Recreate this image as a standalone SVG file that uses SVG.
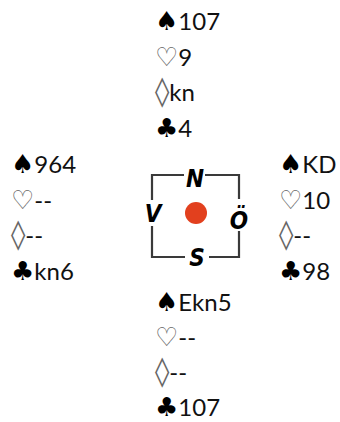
<svg xmlns="http://www.w3.org/2000/svg" width="340" height="422" viewBox="0 0 340 422">
<style>
.h{font-family:"Lato","Open Sans","Liberation Sans",sans-serif;font-size:24px;fill:#111}
.s{font-family:"DejaVu Sans",sans-serif;font-size:26px;fill:#000}
.w{font-family:"DejaVu Sans",sans-serif;font-size:26px;fill:#666}
.d{font-family:"DejaVu Sans",sans-serif;font-size:29px;fill:#666}
.c{font-family:"DejaVu Sans Condensed","DejaVu Sans",sans-serif;font-size:24px;font-weight:bold;font-style:italic;fill:#000;text-anchor:middle}
.box{fill:none;stroke:#3a3a3a;stroke-width:2.2}
</style>
<rect width="340" height="422" fill="#fff"/>
<g id="north">
<text class="h" x="155" y="30"><tspan class="s">♠</tspan>107</text>
<text class="h" x="155" y="65.5"><tspan class="w">♡</tspan>9</text>
<text class="h" x="155" y="101"><tspan class="d">◊</tspan>kn</text>
<text class="h" x="155" y="136.5"><tspan class="s">♣</tspan>4</text>
</g>
<g id="west">
<text class="h" x="11" y="173"><tspan class="s">♠</tspan>964</text>
<text class="h" x="11" y="208.5"><tspan class="w">♡</tspan>--</text>
<text class="h" x="11" y="244"><tspan class="d">◊</tspan>--</text>
<text class="h" x="11" y="279.5"><tspan class="s">♣</tspan>kn6</text>
</g>
<g id="east">
<text class="h" x="279" y="173"><tspan class="s">♠</tspan>KD</text>
<text class="h" x="279" y="208.5"><tspan class="w">♡</tspan>10</text>
<text class="h" x="279" y="244"><tspan class="d">◊</tspan>--</text>
<text class="h" x="279" y="279.5"><tspan class="s">♣</tspan>98</text>
</g>
<g id="south">
<text class="h" x="155" y="311"><tspan class="s">♠</tspan>Ekn5</text>
<text class="h" x="155" y="346"><tspan class="w">♡</tspan>--</text>
<text class="h" x="155" y="381"><tspan class="d">◊</tspan>--</text>
<text class="h" x="155" y="416"><tspan class="s">♣</tspan>107</text>
</g>
<g id="compass">
<path class="box" d="M184 175H152V200M152 226V257H185M209 257H239V231M239 199V175H205"/>
<circle cx="196" cy="213" r="11" fill="#e2401e"/>
<text class="c" x="195" y="187">N</text>
<text class="c" x="153" y="222">V</text>
<text class="c" x="239" y="229">Ö</text>
<text class="c" x="197" y="266">S</text>
</g>
</svg>
